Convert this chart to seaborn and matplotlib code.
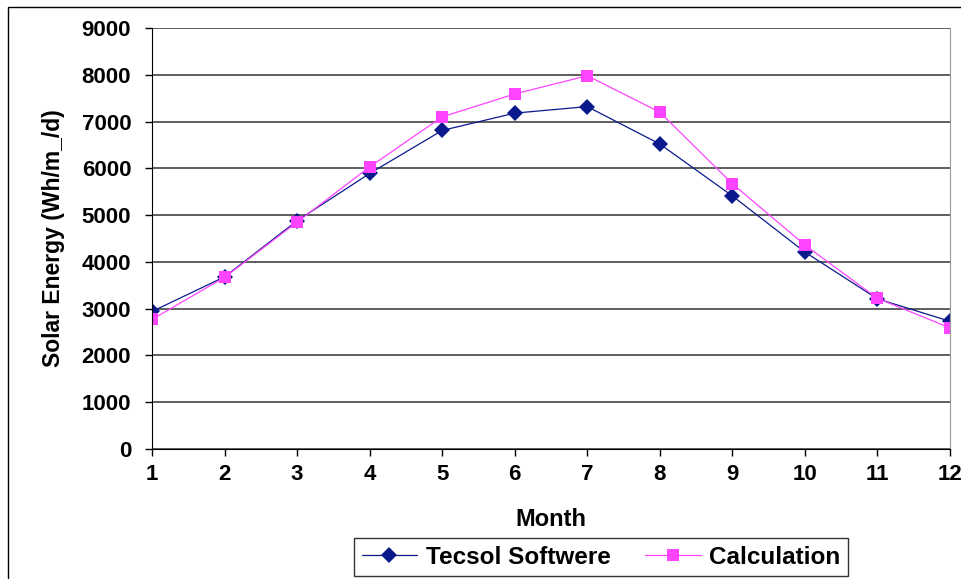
import pandas as pd
import seaborn as sns
import matplotlib.pyplot as plt
from matplotlib.patches import Rectangle

# datos
months = [1, 2, 3, 4, 5, 6, 7, 8, 9, 10, 11, 12]
tecsol = [2940, 3680, 4880, 5890, 6810, 7180, 7320, 6520, 5410, 4210, 3210, 2730]
calculation = [2770, 3670, 4850, 6030, 7100, 7590, 7980, 7200, 5670, 4360, 3220, 2590]
series_names = ['Tecsol Softwere', 'Calculation']

df = pd.DataFrame({
    'Month': months * 2,
    'Energy': tecsol + calculation,
    'Serie': [series_names[0]] * 12 + [series_names[1]] * 12,
})

sns.set_style('white')
plt.rcParams['font.family'] = ['Liberation Sans', 'DejaVu Sans']
plt.rcParams['font.weight'] = 'bold'
plt.rcParams['text.color'] = 'black'
plt.rcParams['axes.labelcolor'] = 'black'

fig = plt.figure(figsize=(9.61, 5.79), dpi=100)
W, H = 961, 579
ax = fig.add_axes([152 / W, 1 - 449 / H, (950 - 152) / W, (449 - 28) / H])

sns.lineplot(data=df, x='Month', y='Energy', hue='Serie', style='Serie',
             markers={series_names[0]: 'D', series_names[1]: 's'},
             dashes=False,
             palette={series_names[0]: '#0a1a8c', series_names[1]: '#ff44ff'},
             markersize=8, markeredgewidth=0, linewidth=0.9, ax=ax)

ax.set_xlim(1, 12)
ax.set_ylim(0, 9000)
ax.set_xticks(months)
ax.set_yticks(range(0, 9001, 1000))
ax.tick_params(axis='both', labelsize=16, direction='out', length=5, width=1,
               colors='black', bottom=True, left=True)
ax.tick_params(axis='y', pad=10)
ax.tick_params(axis='x', pad=6)
for lab in ax.get_xticklabels() + ax.get_yticklabels():
    lab.set_fontweight('bold')

ax.grid(axis='y', color='#333333', linewidth=1.1)
ax.grid(axis='x', visible=False)
ax.set_axisbelow(True)
ax.spines['top'].set_visible(False)
ax.spines['right'].set_color('#999999')
ax.spines['left'].set_color('black')
ax.spines['bottom'].set_color('black')

ax.set_xlabel('Month', fontsize=17, fontweight='bold', labelpad=16, color='black')
ax.set_ylabel('Solar Energy (Wh/m_/d)', fontsize=16.5, fontweight='bold',
              labelpad=12, color='black')

handles, labels = ax.get_legend_handles_labels()
leg = ax.legend(handles, labels, loc='center', bbox_to_anchor=(601 / W, 1 - 557 / H),
                bbox_transform=fig.transFigure, ncol=2, frameon=True, fancybox=False,
                edgecolor='black', handlelength=2.3, handletextpad=0.35,
                columnspacing=1.4, borderpad=0.3, borderaxespad=0,
                prop={'weight': 'bold', 'size': 17.5})
leg.get_frame().set_linewidth(1.0)
for t in leg.get_texts():
    t.set_color('black')

# marco exterior del grafico
fig.patches.append(Rectangle((8 / W, -0.05), 1.1, 1 - 7 / H + 0.05,
                             transform=fig.transFigure, fill=False,
                             edgecolor='black', linewidth=1.0))

fig.savefig('out.png', dpi=100)
